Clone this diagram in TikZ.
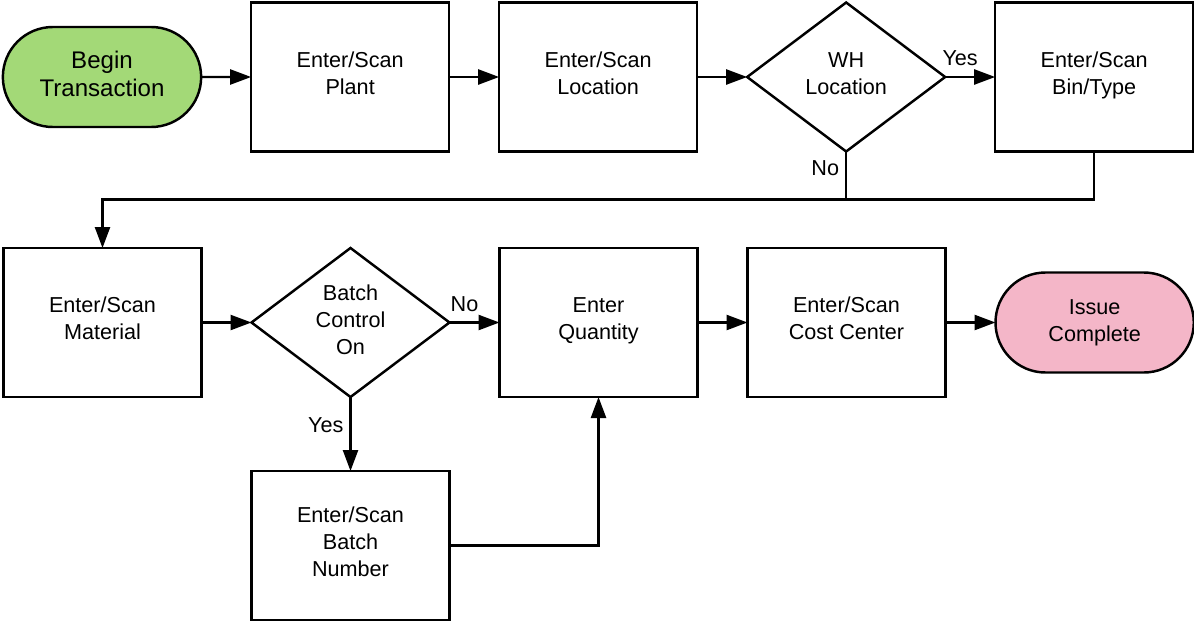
\documentclass[tikz,border=0pt]{standalone}
\usepackage{fontspec}
\setmainfont{Liberation Sans}
\usetikzlibrary{shapes,arrows.meta,positioning}
\definecolor{startgreen}{HTML}{A3D977}
\definecolor{endpink}{HTML}{F4B6C8}

\begin{document}
\begin{tikzpicture}[% styles for the whole chart
			every node/.style={
				align=center,  		% so that "\\" breaks the line
				font=\fontsize{12.3}{15.3}\selectfont
			},
			node distance=1cm,
			line width=1.4pt,
			>={Triangle[length=0.42cm,width=0.3cm]},
			stepbox/.style={rectangle,draw=black,outer sep=0pt,text depth=0.16cm,minimum width=3.96cm,minimum height=2.98cm},
			choice/.style={diamond,draw=black,outer sep=0pt,text depth=0.12cm,minimum width=3.96cm,minimum height=2.98cm,inner sep=0pt},
			terminal/.style={rounded rectangle,draw=black,outer sep=0pt,minimum width=4.2cm,minimum height=2cm},
			lbl/.style={font=\fontsize{12.3}{14}\selectfont}
		]
		\useasboundingbox (0,0) rectangle (23.88,-12.44);
		% top row
		\node[terminal,fill=startgreen,text depth=0.12cm,font=\fontsize{13.7}{15.9}\selectfont](begin) at (2.04,-1.54){Begin\\Transaction};
		\node[stepbox](plant)[right= of begin]{Enter/Scan\\Plant};
		\node[stepbox](loc)[right= of plant]{Enter/Scan\\Location};
		\node[choice](wh)[right= of loc]{WH\\Location};
		\node[stepbox](bin)[right= of wh]{Enter/Scan\\Bin/Type};
		% bottom row
		\node[stepbox](mat) at (2.05,-6.45){Enter/Scan\\Material};
		\node[choice](batch)[right= of mat]{Batch\\Control\\On};
		\node[stepbox](qty)[right= of batch]{Enter\\Quantity};
		\node[stepbox](cost)[right= of qty]{Enter/Scan\\Cost Center};
		\node[terminal,fill=endpink](issue)[right= of cost]{Issue\\Complete};
		\node[stepbox](bnum)[below=1.48cm of batch]{Enter/Scan\\Batch\\Number};
		\path[->]
		(begin)edge (plant)
		(plant)edge (loc)
		(loc)edge (wh)
		(wh)edge node[lbl,above,xshift=-0.2cm,yshift=0.08cm] {Yes} (bin)
		(mat)edge (batch)
		(batch)edge node[lbl,above,xshift=-0.2cm,yshift=0.08cm] {No} (qty)
		(batch)edge node[lbl,left,yshift=0.18cm] {Yes} (bnum)
		(qty)edge (cost)
		(cost)edge (issue)
		;
		\draw (wh.south) -- ++(0,-0.96) node[lbl,pos=0.35,left] {No};
		\draw[->] (bin.south) -- ++(0,-0.96) -| (mat.north);
		\draw[->] (bnum.east) -| (qty.south);
	\end{tikzpicture}
\end{document}
